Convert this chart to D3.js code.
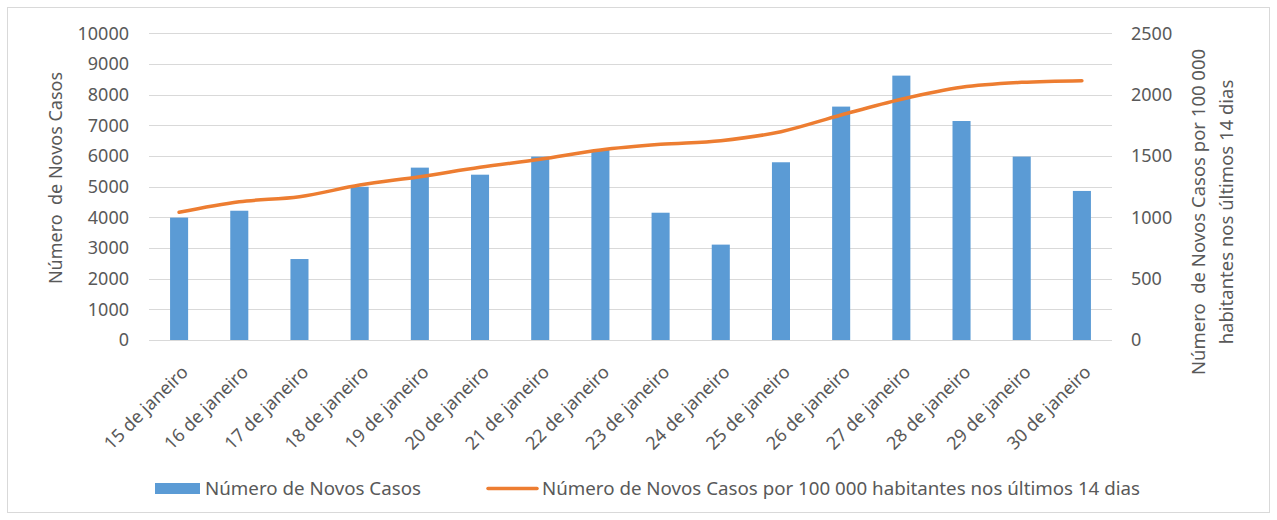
<!DOCTYPE html>
<html>
<head>
  <meta charset="utf-8">
  <title>Novos Casos</title>
  <script src="https://d3js.org/d3.v7.min.js"></script>
<style>
body { margin: 0; background: #fff; }
text { font-family: "Noto Sans", "Open Sans", sans-serif; fill: #595959; }
</style>
</head>
<body>
<svg width="1277" height="520"></svg>
<script>
var dias = ["15 de janeiro", "16 de janeiro", "17 de janeiro", "18 de janeiro",
  "19 de janeiro", "20 de janeiro", "21 de janeiro", "22 de janeiro",
  "23 de janeiro", "24 de janeiro", "25 de janeiro", "26 de janeiro",
  "27 de janeiro", "28 de janeiro", "29 de janeiro", "30 de janeiro"];
var novosCasos = [3990, 4215, 2640, 4995, 5620, 5390, 5980, 6195,
  4150, 3110, 5795, 7610, 8620, 7140, 5980, 4860];
var incidencia14d = [1041, 1127, 1168, 1263, 1331, 1408, 1473, 1549,
  1595, 1625, 1698, 1834, 1962, 2060, 2100, 2114];
var ticksEsq = [0, 1000, 2000, 3000, 4000, 5000, 6000, 7000, 8000, 9000, 10000];
var ticksDir = [0, 500, 1000, 1500, 2000, 2500];

var svg = d3.select("svg");

// moldura do gráfico
svg.append("rect")
  .attr("x", 7.5).attr("y", 7.5)
  .attr("width", 1262).attr("height", 505)
  .attr("fill", "none").attr("stroke", "#d9d9d9");

var x = d3.scaleBand().domain(dias).range([149, 1112])
  .paddingInner(0.7).paddingOuter(0.35);
var yEsq = d3.scaleLinear().domain([0, 10000]).range([340, 33.3]);
var yDir = d3.scaleLinear().domain([0, 2500]).range([340, 33.3]);

// grelha
svg.append("g").selectAll("line")
  .data(ticksEsq).enter().append("line")
  .attr("x1", 149).attr("x2", 1112)
  .attr("y1", function(d) { return Math.round(yEsq(d)) + 0.5; })
  .attr("y2", function(d) { return Math.round(yEsq(d)) + 0.5; })
  .attr("stroke", "#d9d9d9").attr("stroke-width", 1);

// eixo esquerdo
var eixoEsq = svg.append("g")
  .attr("transform", "translate(129,0)")
  .call(d3.axisLeft(yEsq).tickValues(ticksEsq).tickSize(0).tickPadding(0).tickFormat(d3.format("d")));
eixoEsq.select(".domain").remove();
eixoEsq.selectAll("text").style("font-size", "18px").attr("fill", "#595959")
  .style("font-family", "'Noto Sans', sans-serif");

// eixo direito
var eixoDir = svg.append("g")
  .attr("transform", "translate(1131,0)")
  .call(d3.axisRight(yDir).tickValues(ticksDir).tickSize(0).tickPadding(0).tickFormat(d3.format("d")));
eixoDir.select(".domain").remove();
eixoDir.selectAll("text").style("font-size", "18px").attr("fill", "#595959")
  .style("font-family", "'Noto Sans', sans-serif");

// barras
svg.append("g").selectAll("rect")
  .data(novosCasos).enter().append("rect")
  .attr("x", function(d, i) { return x(dias[i]); })
  .attr("width", x.bandwidth())
  .attr("y", function(d) { return yEsq(d); })
  .attr("height", function(d) { return yEsq(0) - yEsq(d); })
  .attr("fill", "#5b9bd5");

// linha suavizada
var linha = d3.line()
  .x(function(d, i) { return x(dias[i]) + x.bandwidth() / 2; })
  .y(function(d) { return yDir(d); })
  .curve(d3.curveCatmullRom.alpha(0.5));
svg.append("path")
  .datum(incidencia14d)
  .attr("d", linha)
  .attr("fill", "none")
  .attr("stroke", "#ed7d31")
  .attr("stroke-width", 3.5)
  .attr("stroke-linecap", "round");

// rótulos das categorias
svg.append("g").selectAll("text")
  .data(dias).enter().append("text")
  .attr("transform", function(d) {
    return "translate(" + (x(d) + x.bandwidth() / 2 + 1) + ",364) rotate(-45)";
  })
  .attr("text-anchor", "end")
  .attr("dy", "0.72em")
  .style("font-size", "18px")
  .text(function(d) { return d; });

// títulos dos eixos
svg.append("text")
  .attr("transform", "translate(62,178) rotate(-90)")
  .attr("text-anchor", "middle")
  .style("font-size", "18px")
  .style("white-space", "pre")
  .text("Número  de Novos Casos");

var tituloDir = svg.append("text")
  .attr("transform", "translate(1205,212) rotate(-90)")
  .attr("text-anchor", "middle")
  .style("font-size", "18.5px")
  .style("white-space", "pre");
tituloDir.append("tspan").attr("x", 0).attr("dy", 0).text("Número  de Novos Casos por 100 000");
tituloDir.append("tspan").attr("x", 0).attr("dy", "1.5em").text("habitantes nos últimos 14 dias");

// legenda
var leg = svg.append("g");
leg.append("rect").attr("x", 155).attr("y", 483).attr("width", 45).attr("height", 11).attr("fill", "#5b9bd5");
leg.append("text").attr("x", 205).attr("y", 495).style("font-size", "18px")
  .attr("textLength", 216).attr("lengthAdjust", "spacingAndGlyphs")
  .text("Número de Novos Casos");
leg.append("line").attr("x1", 488).attr("x2", 537).attr("y1", 488.5).attr("y2", 488.5)
  .attr("stroke", "#ed7d31").attr("stroke-width", 3.5).attr("stroke-linecap", "round");
leg.append("text").attr("x", 542).attr("y", 495).style("font-size", "18px")
  .attr("textLength", 598).attr("lengthAdjust", "spacingAndGlyphs")
  .text("Número de Novos Casos por 100 000 habitantes nos últimos 14 dias");
</script>
</body>
</html>
